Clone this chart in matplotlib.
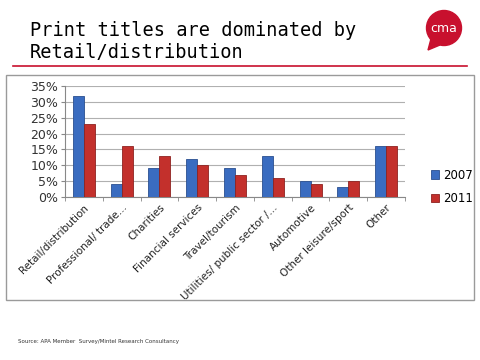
import numpy as np
import matplotlib.pyplot as plt
from matplotlib.patches import Rectangle, Circle, Polygon

categories = ["Retail/distribution", "Professional/ trade\u2026", "Charities",
              "Financial services", "Travel/tourism", "Utilities/ public sector /\u2026",
              "Automotive", "Other leisure/sport", "Other"]
values_2007 = [32, 4, 9, 12, 9, 13, 5, 3, 16]
values_2011 = [23, 16, 13, 10, 7, 6, 4, 5, 16]
y_ticks = [0, 5, 10, 15, 20, 25, 30, 35]

W, H = 480, 360
fig = plt.figure(figsize=(4.8, 3.6), dpi=100)

def fx(x):
    return x / W

def fy(y):
    return 1 - y / H

# title
fig.text(fx(30), fy(31), "Print titles are dominated by", family="DejaVu Sans Mono",
         fontsize=13.4, va="center", ha="left")
fig.text(fx(30), fy(53), "Retail/distribution", family="DejaVu Sans Mono",
         fontsize=13.4, va="center", ha="left")
fig.add_artist(plt.Line2D([fx(13), fx(467)], [fy(66), fy(66)], color="#c8102e", lw=1.2))

# logo
lax = fig.add_axes([fx(420), fy(55), fx(46), 46 / H])
lax.set_xlim(0, 46)
lax.set_ylim(46, 0)
lax.axis("off")
lax.add_patch(Polygon([[12, 26], [20, 36], [8, 41]], closed=True, color="#c8102e"))
lax.add_patch(Circle((24, 19), 17.5, color="#c8102e"))
lax.text(24, 20, "cma", color="white", fontsize=9, ha="center", va="center")

# chart frame
fig.add_artist(Rectangle((fx(6), fy(300)), fx(468), 225 / H, transform=fig.transFigure,
                         fill=False, edgecolor="#9a9a9a", lw=1))

ax = fig.add_axes([fx(65), fy(197), fx(340), 111 / H])
x = np.arange(len(categories))
bw = 0.29
ax.bar(x - bw / 2, values_2007, bw, color="#3a6cc0", edgecolor="#2a4f90", lw=0.6,
       label="2007", zorder=3)
ax.bar(x + bw / 2, values_2011, bw, color="#c3302c", edgecolor="#8e2220", lw=0.6,
       label="2011", zorder=3)
ax.set_xlim(-0.5, len(categories) - 0.5)
ax.set_ylim(0, 35)
ax.set_yticks(y_ticks)
ax.set_yticklabels([f"{v}%" for v in y_ticks], fontsize=9, color="#333333")
ax.yaxis.grid(True, color="#b0b0b0", lw=0.8, zorder=0)
ax.set_xticks(x)
ax.set_xticklabels(categories, rotation=45, ha="right", rotation_mode="anchor",
                   fontsize=7.5, color="#222222")
ax.tick_params(axis="x", length=0, pad=4)
ax.set_xticks(np.arange(len(categories) + 1) - 0.5, minor=True)
ax.tick_params(axis="x", which="minor", length=3, color="#888888")
ax.tick_params(axis="y", length=3, color="#888888", pad=2)
for s in ["top", "right"]:
    ax.spines[s].set_visible(False)
ax.spines["left"].set_color("#888888")
ax.spines["bottom"].set_color("#888888")

fig.legend(loc="center left", bbox_to_anchor=(fx(420), fy(187)), frameon=False,
           fontsize=8.5, handlelength=0.7, handleheight=0.7, handletextpad=0.4,
           labelspacing=0.9)

fig.text(fx(18), fy(341), "Source: APA Member  Survey/Mintel Research Consultancy",
         fontsize=4, color="#333333", va="center")

fig.savefig("out.png", dpi=100)
